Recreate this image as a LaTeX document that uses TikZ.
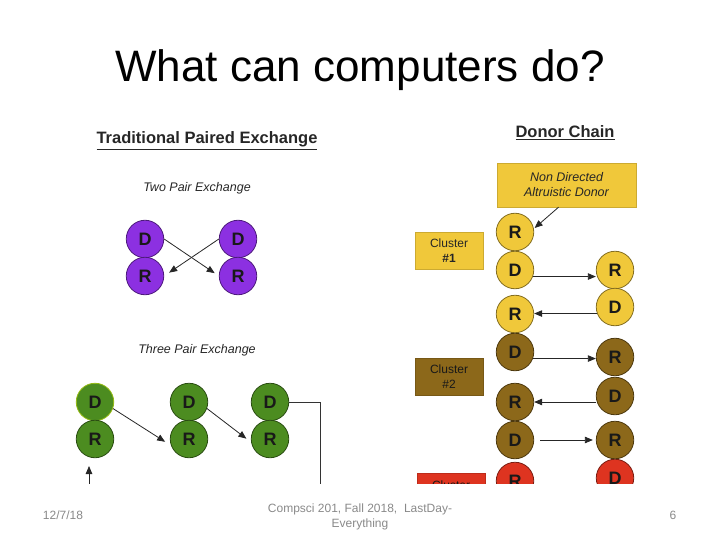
\documentclass[tikz,border=0pt]{standalone}
\usepackage{fontspec}
\setmainfont{Liberation Sans}
\usetikzlibrary{arrows.meta,calc}
\definecolor{purp}{RGB}{140,48,225}
\definecolor{grn}{RGB}{76,140,32}
\definecolor{gold}{RGB}{240,200,58}
\definecolor{brn}{RGB}{140,104,26}
\definecolor{redc}{RGB}{222,52,32}
\definecolor{foot}{RGB}{137,137,137}
\begin{document}
\begin{tikzpicture}[x=1pt,y=-1pt,
  disc/.style={circle,minimum size=37.5pt,inner sep=0pt,draw=#1!55!black,fill=#1,line width=0.8pt,font=\fontsize{18}{18}\selectfont\bfseries,text=black!90},
  arr/.style={draw=black!85,line width=0.8pt,-{Triangle[length=8pt,width=6.5pt]}},
  plain/.style={draw=black!80,line width=0.9pt},
  boxfill/.style={fill=#1,draw=#1!85!black,line width=0.5pt,inner sep=0pt},
  head/.style={font=\fontsize{16.5}{16.5}\selectfont\bfseries,text=black!85,anchor=base},
  sub/.style={font=\fontsize{12.5}{12.5}\selectfont\itshape,text=black!85},
  foottext/.style={font=\fontsize{12}{15}\selectfont,text=foot}]
\useasboundingbox (0,0) rectangle (720,540);

\node[anchor=base,font=\fontsize{44}{44}\selectfont] (title) at (360,81.5) {What can computers do?};

\begin{scope}
\clip (0,0) rectangle (720,483);
% Traditional paired exchange
\node[head] (tpe) at (207,144) {\underline{Traditional Paired Exchange}};
\node[sub] (two) at (197,188) {Two Pair Exchange};
\node[disc=purp] (pD1) at (145,239) {D};
\node[disc=purp] (pR1) at (145,276) {R};
\node[disc=purp] (pD2) at (238,239) {D};
\node[disc=purp] (pR2) at (238,276) {R};
\draw[arr,shorten >=5pt] (pD1.east) -- (pR2.west);
\draw[arr,shorten >=6pt] (pD2.west) -- (pR1.east);

\node[sub] (three) at (197,350) {Three Pair Exchange};
\node[disc=grn,draw=grn!60!yellow] (gD1) at (95,402) {D};
\node[disc=grn] (gR1) at (95,439) {R};
\node[disc=grn] (gD2) at (189,402) {D};
\node[disc=grn] (gR2) at (189,439) {R};
\node[disc=grn] (gD3) at (270,402) {D};
\node[disc=grn] (gR3) at (270,439) {R};
\draw[arr,shorten >=7pt] (gD1.-20) -- (gR2.200);
\draw[arr,shorten >=6pt] (gD2.-20) -- (gR3.190);
\coordinate (gcorner) at (320,402);
\coordinate (gend) at (320,495);
\draw[plain] (gD3.east) -- (gcorner) -- (gend);
\coordinate (gstart) at (89,495);
\coordinate (gtip) at (89,466);
\draw[arr] (gstart) -- (gtip);

% Donor chain
\node[head] (dc) at (565,138) {\underline{Donor Chain}};
\node[boxfill=gold,minimum width=139pt,minimum height=44pt,align=center,
      font=\fontsize{12.5}{15}\selectfont\itshape,text=black!85] (nd) at (566.5,185) {Non Directed\\Altruistic Donor};
\node[boxfill=gold,minimum width=68pt,minimum height=37pt,align=center,
      font=\fontsize{12}{15}\selectfont,text=black!85] (c1) at (449,250.5) {Cluster\\\textbf{\#1}};
\node[boxfill=brn,minimum width=68pt,minimum height=37pt,align=center,
      font=\fontsize{12}{15}\selectfont,text=black!90] (c2) at (449,376.5) {Cluster\\\#2};
\node[boxfill=redc,minimum width=68pt,minimum height=37pt,anchor=north] (c3) at (451,473) {};
\node[anchor=base,font=\fontsize{12}{15}\selectfont,text=black!90,inner sep=0pt] (c3t) at (451,489.5) {Cluster};

\node[disc=gold] (yR1) at (515,232) {R};
\node[disc=gold] (yD1) at (515,270) {D};
\node[disc=gold] (yR3) at (515,314) {R};
\node[disc=gold] (yR2) at (615,270) {R};
\node[disc=gold] (yD2) at (615,307) {D};
\node[disc=brn] (bD1) at (515,352) {D};
\node[disc=brn] (bR2) at (515,402) {R};
\node[disc=brn] (bD3) at (515,440) {D};
\node[disc=brn] (bR1) at (615,357) {R};
\node[disc=brn] (bD2) at (615,396) {D};
\node[disc=brn] (bR3) at (615,440) {R};
\node[disc=redc] (rR) at (515,481) {R};
\node[disc=redc] (rD) at (615,478) {D};

\draw[arr,shorten >=1pt] ($(nd.south)+(-8,0)$) -- (yR1.10);
\draw[arr] (yD1.-20) -- (yD1.-20 -| yR2.west);
\draw[arr] (yD2.200) -- (yD2.200 -| yR3.east);
\draw[arr] (bD1.-20) -- (bD1.-20 -| bR1.west);
\draw[arr] (bR2.east -| bD2.west) -- (bR2.east);
\draw[arr,shorten <=6pt,shorten >=3pt] (bD3.east) -- (bR3.west);
\end{scope}

% footer
\node[foottext,anchor=base] (date) at (63,519.5) {12/7/18};
\node[foottext,align=center] (course) at (360,516.5) {Compsci 201, Fall 2018,~~LastDay-\\Everything};
\node[foottext,anchor=base] (page) at (673,519.5) {6};
\end{tikzpicture}
\end{document}
